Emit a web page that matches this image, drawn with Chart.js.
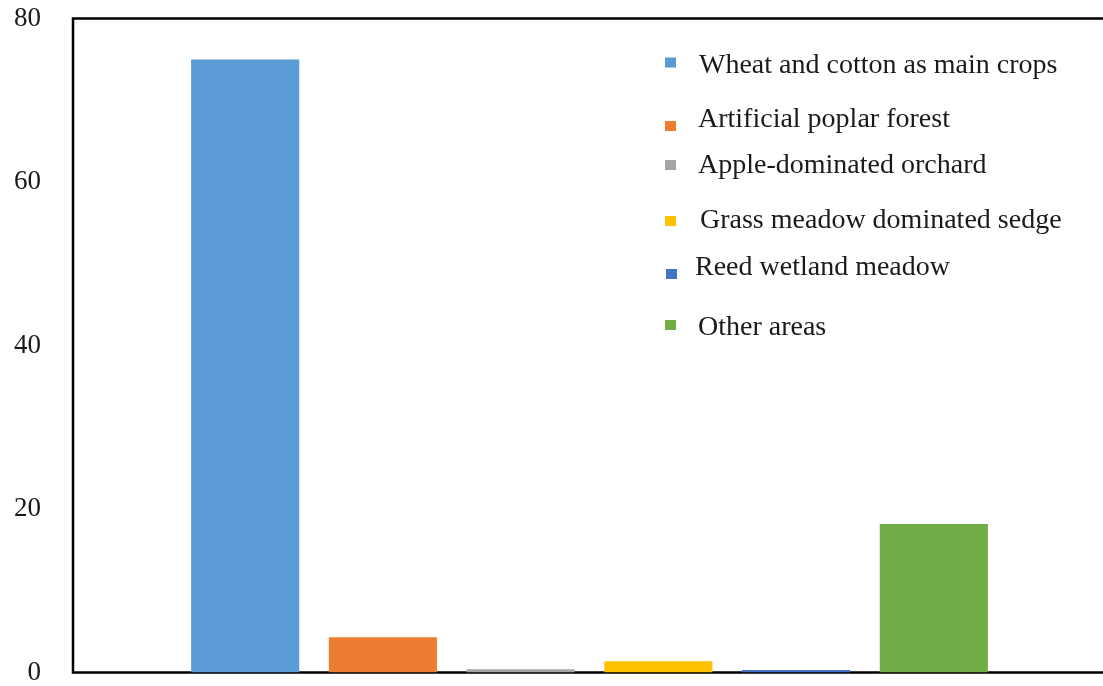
<!DOCTYPE html>
<html>
<head>
<meta charset="utf-8">
<script src="https://cdn.jsdelivr.net/npm/chart.js@4/dist/chart.umd.min.js"></script>
<style>
  html, body { margin: 0; padding: 0; background: #fff; overflow: hidden; }
  #wrap { width: 1110px; height: 686px; }
</style>
</head>
<body>
<div id="wrap"><canvas id="c" width="1110" height="686"></canvas></div>
<script>
// ---- data ----
const categories = [""];
const seriesNames = [
  "Wheat and cotton as main crops",
  "Artificial poplar forest",
  "Apple-dominated orchard",
  "Grass meadow dominated sedge",
  "Reed wetland meadow",
  "Other areas"
];
const seriesValues = [75.0, 4.3, 0.4, 1.37, 0.3, 18.15];
const seriesColors = ["#5B9BD5", "#ED7D31", "#A5A5A5", "#FFC000", "#4472C4", "#70AD47"];
const yTicks = [0, 20, 40, 60, 80];

const FONT = "'Liberation Serif', 'Times New Roman', serif";

const framePlugin = {
  id: 'frame',
  beforeDatasetsDraw(chart) {
    const {ctx, chartArea: a} = chart;
    ctx.save();
    ctx.strokeStyle = '#000';
    ctx.lineWidth = 2.5;
    ctx.strokeRect(a.left, a.top, a.right - a.left, a.bottom - a.top);
    ctx.restore();
  }
};

const legendPlugin = {
  id: 'customLegend',
  afterDraw(chart, args, opts) {
    const {ctx} = chart;
    ctx.save();
    ctx.font = opts.font;
    ctx.textBaseline = 'alphabetic';
    ctx.textAlign = 'left';
    chart.data.datasets.forEach((ds, i) => {
      const it = opts.items[i];
      ctx.fillStyle = ds.backgroundColor;
      ctx.fillRect(it.bx, it.by - 5, 11, 10);
      ctx.fillStyle = opts.color;
      ctx.fillText(ds.label, it.tx, it.ty);
    });
    ctx.restore();
  }
};

new Chart(document.getElementById('c'), {
  type: 'bar',
  data: {
    labels: categories,
    datasets: seriesNames.map((name, i) => ({
      label: name,
      data: [seriesValues[i]],
      backgroundColor: seriesColors[i],
      borderWidth: 0,
      categoryPercentage: 0.8,
      barPercentage: 0.785
    }))
  },
  plugins: [framePlugin, legendPlugin],
  options: {
    responsive: false,
    animation: false,
    layout: { padding: { top: 18.5, bottom: 13.5, left: 0, right: 4 } },
    plugins: {
      legend: { display: false },
      tooltip: { enabled: false },
      customLegend: {
        font: "28px " + FONT,
        color: '#1a1a1a',
        items: [
          {bx: 665, by: 62.5, tx: 699, ty: 73},
          {bx: 665, by: 126, tx: 698, ty: 127},
          {bx: 665, by: 165, tx: 698, ty: 173},
          {bx: 665, by: 221, tx: 700, ty: 228},
          {bx: 666, by: 274, tx: 695, ty: 275},
          {bx: 665, by: 325, tx: 698, ty: 335}
        ]
      }
    },
    scales: {
      x: {
        type: 'category',
        grid: { display: false, drawTicks: false },
        border: { display: false },
        ticks: { display: false },
        afterFit(scale) {
          scale.height = 0;
          scale.paddingLeft = 0; scale.paddingRight = 0;
          scale.paddingTop = 0; scale.paddingBottom = 0;
        }
      },
      y: {
        min: 0,
        max: 80,
        afterBuildTicks(scale) { scale.ticks = yTicks.map(v => ({value: v})); },
        grid: { display: false, drawTicks: false, tickLength: 0 },
        border: { display: false },
        ticks: {
          padding: 32,
          color: '#1a1a1a',
          font: { family: FONT, size: 27 }
        },
        afterFit(scale) {
          scale.width = 73;
          scale.paddingTop = 0; scale.paddingBottom = 0;
          scale.paddingLeft = 0; scale.paddingRight = 0;
        }
      }
    }
  }
});
</script>
</body>
</html>
